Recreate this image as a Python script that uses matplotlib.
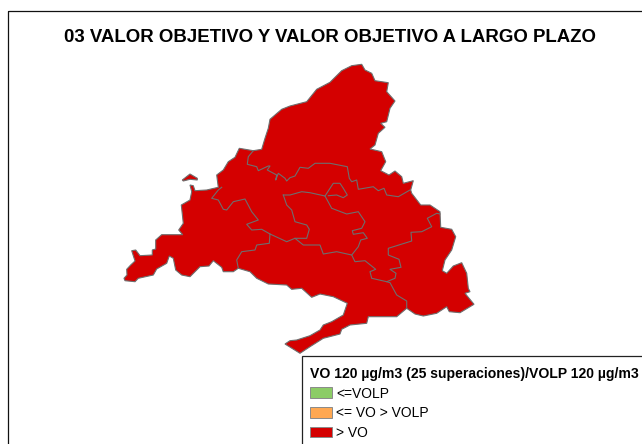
import matplotlib
matplotlib.use("Agg")
import matplotlib.pyplot as plt
from matplotlib.patches import Patch, Polygon, Rectangle

TITLE = "03 VALOR OBJETIVO Y VALOR OBJETIVO A LARGO PLAZO"
LEGEND_TITLE = "VO 120 µg/m3 (25 superaciones)/VOLP 120 µg/m3"
LEGEND_LABELS = ["<=VOLP", "<= VO > VOLP", "> VO"]
LEGEND_COLORS = ["#8CCC66", "#FFA852", "#D40000"]
FILL = "#D40000"
BORDER = "#6E6E6E"

outline = [(124,278.3),(127,275),(126.7,269.3),(130.7,265),(135,261),(131.7,250.7),(135.7,250),(140,255.7),(152.3,255),(152.3,250),(155.7,249),(155.7,240),(161.7,234.7),(182.7,234.7),(178.7,230),(183.3,223.3),(181.3,205),(190,200),(191.7,191.7),(190,185),(193.3,185.7),(195,190.7),(206.7,190),(218.3,187.3),(216.7,175),(223.3,170),(228.3,161.7),(235,157.3),(239.3,148.3),(253.3,150.7),(261.7,149.3),(265,138.3),(268.3,128.3),(270,119.3),(281.7,109.3),(290,106),(306.7,101.7),(316.7,89.3),(330,82.3),(341.7,70.7),(351.7,65.7),(361.7,64.3),(365,70),(371.7,73.3),(375,80.7),(388.3,82.7),(386.7,91.7),(395,101),(390,108.3),(386.7,121.7),(380.7,123.3),(385,127.3),(378.3,133.3),(375,145),(370,149),(381.7,151.7),(385.7,161.7),(380.7,170.7),(389,175),(395,171),(401.7,176.7),(403.3,183.3),(413.3,180.7),(410.7,190),(411.7,193.3),(420.7,205),(430,205),(440,211.7),(440.7,227.3),(451.7,229.3),(455.7,236.7),(451.7,250),(445,260),(442.3,270.7),(446.7,273.3),(453.3,266),(461.7,262.7),(466.7,273.3),(468.3,288.3),(470,291.7),(465,293.3),(474,304.3),(460,312.7),(449.3,311.7),(446.7,306.7),(436.7,313.3),(423.3,316),(415,314),(406.7,308.3),(396.7,316.7),(386.7,316.7),(368.3,316.7),(366.7,323.3),(350,325),(341.7,329.3),(340,334),(323.3,338.3),(310,346.7),(300,353.3),(285,344),(290,340.7),(296.7,340),(310,335.7),(320,330),(323.3,325),(331.7,321.7),(343.3,315),(347.3,303.3),(333.3,296.7),(320,294),(311.7,297.3),(301.7,288.3),(291.7,289.3),(286.7,285),(268.3,284),(256.7,278.3),(250,271.7),(238.3,268.3),(233.3,271.7),(223.3,271.7),(221.7,267.3),(213.3,260.7),(209,266),(200,266.7),(190,276.7),(181.7,275),(175.7,270),(173.3,258.3),(169.3,256),(166.7,263.3),(156.7,269),(153.3,275),(138.3,278.3),(135,281.7),(125,280.7)]
island = [(182.3,180),(190,174),(197.3,178.3),(197.3,180),(190,179.3),(183.3,181)]
border_north = [(253.3,150.7),(248.3,156.7),(247.3,164.3),(256.7,166.7),(258.3,170.7),(268.3,166),(270,166),(267.3,170),(276.7,175),(275.7,180),(278.3,173.3),(285,178.3),(286.7,181),(290,177.7),(295,176),(300,167.3),(308.3,168.3),(315,163.3),(330,163.3),(347.3,166.7),(349.3,178.3),(351.7,181.7),(356.7,180),(358.3,189.3),(373.3,186.7),(378.3,190.7),(384,188.3),(386.7,195),(398.3,196.7),(410,190)]
border_middle = [(283.3,195),(290,195),(301.7,191.7),(310,192.7),(325,196),(331.7,208.3),(346.7,214),(358.3,211.7),(365,221.7),(361.7,228.3),(352.3,230.7),(353.3,234.3),(363.3,232.7),(367.3,238.3),(360.7,240),(358.3,246.7),(351.7,255),(355,261.7),(365,260.7),(375.7,269.3),(370,271.7),(371.7,278.3),(386.7,281.7),(395,278.3),(396,273.3),(390,269.3),(401,267.3),(399,259.3),(388.3,255),(388.3,248.3),(411.7,241),(411,232.3),(421.7,231.7),(431.7,226.7),(427.3,218.3),(436.7,213.3),(440,214)]
border_loop = [(325,196),(333.3,183.3),(340,183.3),(343.3,188.3),(347.3,195),(343.3,197.7),(336.7,195),(328.3,195.7)]
border_southeast = [(386.7,281.7),(390,282.7),(396.7,295),(406.7,301),(406.7,308.3)]
border_central = [(351.7,255),(336.7,251.7),(323.3,254),(320,245),(303.3,245),(295,238.3),(286.7,241.7),(270,234),(269.3,243.3),(256.7,245),(255,250),(241.7,251.7),(236.7,260),(238.3,268.3)]
border_west = [(270,234),(261.7,229.3),(251.7,230),(246.7,224.3),(258.3,220),(251.7,211.7),(245,199),(233.3,201.7),(226.7,210),(223.3,209.3),(218.3,200),(211.7,198.3),(218.3,190),(221.7,187.3)]
border_inner = [(283.3,195),(286.7,205),(291.7,210),(295,221.7),(306.7,225),(309.3,229.3),(306.7,238.3),(295,238.3)]
borders = [border_north, border_middle, border_loop, border_southeast, border_central, border_west, border_inner]

plt.rcParams["font.family"] = ["Liberation Sans", "DejaVu Sans"]
fig = plt.figure(figsize=(6.42, 4.44), dpi=100)
ax = fig.add_axes([0, 0, 1, 1])
ax.set_xlim(0, 642)
ax.set_ylim(444, 0)
ax.axis("off")

ax.add_patch(Rectangle((8, 11), 700, 500, fill=False, edgecolor="#111111", lw=0.9))
for shape in (outline, island):
    ax.add_patch(Polygon(shape, closed=True, facecolor=FILL, edgecolor=BORDER, lw=0.8))
for line in borders:
    ax.plot(*zip(*line), color=BORDER, lw=0.8)

ax.text(330, 37.5, TITLE, ha="center", va="center", fontsize=13.4, fontweight="bold", color="black")

ax.add_patch(Rectangle((302, 356), 400, 200, facecolor="white", edgecolor="#222222", lw=0.9, zorder=3))
handles = [Patch(facecolor=c, edgecolor="#8A8A8A", lw=0.7) for c in LEGEND_COLORS]
leg = ax.legend(handles, LEGEND_LABELS, title=LEGEND_TITLE, loc="upper left",
                bbox_to_anchor=(309.5, 367), bbox_transform=ax.transData,
                frameon=False, fontsize=10, handlelength=1.61, handleheight=0.79,
                handletextpad=0.3, labelspacing=0.4, borderpad=0, borderaxespad=0,
                title_fontproperties={"weight": "bold", "size": 10.1}, alignment="left")
leg.set_zorder(4)

fig.savefig("out.png", dpi=100)
